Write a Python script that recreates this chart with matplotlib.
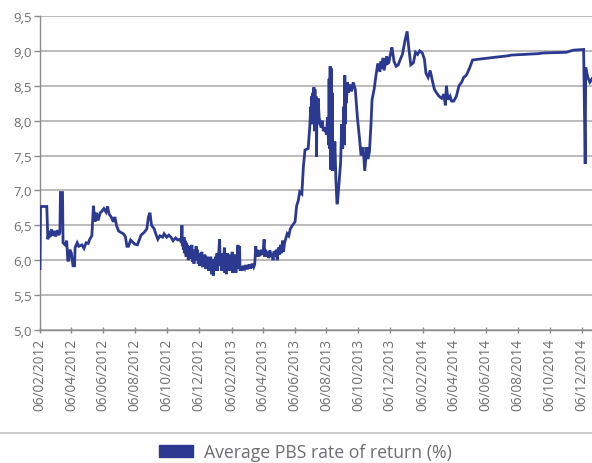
import matplotlib
matplotlib.use("Agg")
import matplotlib.pyplot as plt
import matplotlib.dates as mdates
import matplotlib.ticker as mticker
from matplotlib.patches import Patch
from matplotlib.lines import Line2D
import pandas as pd

dates = [
    "2012-02-06", "2012-02-07", "2012-02-19", "2012-02-21", "2012-02-23", "2012-02-25", "2012-02-28",
    "2012-03-01", "2012-03-04", "2012-03-07", "2012-03-10", "2012-03-13", "2012-03-15", "2012-03-16",
    "2012-03-20", "2012-03-21", "2012-03-25", "2012-03-28", "2012-03-30", "2012-04-01", "2012-04-03",
    "2012-04-06", "2012-04-09", "2012-04-12", "2012-04-13", "2012-04-17", "2012-04-20", "2012-04-26",
    "2012-04-30", "2012-05-04", "2012-05-08", "2012-05-11", "2012-05-15", "2012-05-18", "2012-05-21",
    "2012-05-24", "2012-05-27", "2012-05-31", "2012-06-03", "2012-06-07", "2012-06-11", "2012-06-14",
    "2012-06-17", "2012-06-21", "2012-06-25", "2012-06-28", "2012-07-01", "2012-07-05", "2012-07-09",
    "2012-07-14", "2012-07-18", "2012-07-21", "2012-07-24", "2012-07-28", "2012-08-01", "2012-08-05",
    "2012-08-10", "2012-08-14", "2012-08-17", "2012-08-23", "2012-08-28", "2012-08-31", "2012-09-03",
    "2012-09-06", "2012-09-11", "2012-09-14", "2012-09-18", "2012-09-22", "2012-09-27", "2012-09-30",
    "2012-10-05", "2012-10-09", "2012-10-13", "2012-10-17", "2012-10-22", "2012-10-26", "2012-10-30",
    # Nov 2012 - May 2013 (noisy band)
    "2012-11-02", "2012-11-03", "2012-11-04", "2012-11-05", "2012-11-06", "2012-11-07", "2012-11-08",
    "2012-11-09", "2012-11-11", "2012-11-12", "2012-11-13", "2012-11-14", "2012-11-15", "2012-11-17",
    "2012-11-18", "2012-11-19", "2012-11-20", "2012-11-22", "2012-11-23", "2012-11-25", "2012-11-26",
    "2012-11-27", "2012-11-29", "2012-11-30", "2012-12-02", "2012-12-03", "2012-12-04", "2012-12-06",
    "2012-12-07", "2012-12-08", "2012-12-10", "2012-12-11", "2012-12-12", "2012-12-14", "2012-12-15",
    "2012-12-17", "2012-12-18", "2012-12-19", "2012-12-21", "2012-12-22", "2012-12-24", "2012-12-26",
    "2012-12-27", "2012-12-28", "2012-12-30", "2012-12-31", "2013-01-02", "2013-01-03", "2013-01-05",
    "2013-01-06", "2013-01-07", "2013-01-09", "2013-01-10", "2013-01-12", "2013-01-14", "2013-01-15",
    "2013-01-17", "2013-01-18", "2013-01-20", "2013-01-21", "2013-01-23", "2013-01-24", "2013-01-26",
    "2013-01-27", "2013-01-29", "2013-01-30", "2013-02-01", "2013-02-02", "2013-02-04", "2013-02-05",
    "2013-02-07", "2013-02-08", "2013-02-10", "2013-02-11", "2013-02-13", "2013-02-14", "2013-02-16",
    "2013-02-18", "2013-02-19", "2013-02-21", "2013-02-22", "2013-02-24", "2013-02-26", "2013-02-28",
    "2013-03-03", "2013-03-05", "2013-03-08", "2013-03-11", "2013-03-14", "2013-03-17", "2013-03-20",
    "2013-03-22", "2013-03-24", "2013-03-25", "2013-03-27", "2013-03-28", "2013-03-30", "2013-04-01",
    "2013-04-03", "2013-04-05", "2013-04-07", "2013-04-09", "2013-04-10", "2013-04-12", "2013-04-14",
    "2013-04-16", "2013-04-18", "2013-04-20", "2013-04-22", "2013-04-24", "2013-04-26", "2013-04-28",
    "2013-04-30", "2013-05-02", "2013-05-04", "2013-05-06", "2013-05-08", "2013-05-10", "2013-05-12",
    "2013-05-14", "2013-05-16", "2013-05-18", "2013-05-20",
    # June - October 2013
    "2013-05-23", "2013-05-26", "2013-05-29", "2013-06-02", "2013-06-04", "2013-06-07", "2013-06-10",
    "2013-06-13", "2013-06-16", "2013-06-20", "2013-06-23", "2013-06-26", "2013-07-02", "2013-07-05",
    "2013-07-07", "2013-07-08", "2013-07-09", "2013-07-10", "2013-07-11", "2013-07-12", "2013-07-13",
    "2013-07-14", "2013-07-15", "2013-07-16", "2013-07-17", "2013-07-18", "2013-07-19", "2013-07-20",
    "2013-07-21", "2013-07-23", "2013-07-25", "2013-07-27", "2013-07-29", "2013-07-31", "2013-08-03",
    "2013-08-06", "2013-08-08", "2013-08-10", "2013-08-11", "2013-08-12", "2013-08-13", "2013-08-14",
    "2013-08-15", "2013-08-16", "2013-08-17", "2013-08-18", "2013-08-19", "2013-08-21", "2013-08-22",
    "2013-08-24", "2013-08-26", "2013-08-27", "2013-09-02", "2013-09-04", "2013-09-06", "2013-09-08",
    "2013-09-09", "2013-09-10", "2013-09-11", "2013-09-12", "2013-09-13", "2013-09-15", "2013-09-17",
    "2013-09-20", "2013-09-23", "2013-09-26", "2013-09-30", "2013-10-04", "2013-10-08", "2013-10-11",
    "2013-10-15", "2013-10-18", "2013-10-22", "2013-10-24", "2013-10-27", "2013-10-30", "2013-11-01",
    "2013-11-05", "2013-11-08", "2013-11-12", "2013-11-16", "2013-11-18", "2013-11-20", "2013-11-22",
    "2013-11-24", "2013-11-26", "2013-11-29", "2013-12-01", "2013-12-03", "2013-12-06", "2013-12-09",
    "2013-12-13", "2013-12-17", "2013-12-21", "2013-12-25", "2013-12-29", "2014-01-03", "2014-01-07",
    "2014-01-10", "2014-01-14", "2014-01-19", "2014-01-23", "2014-01-27", "2014-01-31", "2014-02-05",
    "2014-02-09", "2014-02-12", "2014-02-16", "2014-02-20", "2014-02-24", "2014-02-28", "2014-03-04",
    "2014-03-09", "2014-03-14", "2014-03-18", "2014-03-21", "2014-03-23", "2014-03-26", "2014-03-30",
    "2014-04-02", "2014-04-06", "2014-04-11", "2014-04-16", "2014-04-21", "2014-04-25", "2014-04-30",
    "2014-05-06", "2014-05-12", "2014-06-14", "2014-07-19", "2014-07-25", "2014-09-14", "2014-09-24",
    "2014-11-07", "2014-11-20", "2014-12-10", "2014-12-13", "2014-12-14", "2014-12-18", "2014-12-22",
    "2014-12-26",
]

rate_of_return = [
    5.88, 6.77, 6.77, 6.30, 6.42, 6.33, 6.44,
    6.35, 6.42, 6.34, 6.43, 6.36, 6.40, 6.97,
    6.97, 6.25, 6.22, 6.28, 6.00, 6.00, 6.15,
    6.10, 5.92, 5.92, 6.18, 6.25, 6.20, 6.22,
    6.17, 6.25, 6.24, 6.30, 6.35, 6.78, 6.55,
    6.68, 6.57, 6.68, 6.70, 6.74, 6.69, 6.77,
    6.66, 6.62, 6.55, 6.62, 6.50, 6.42, 6.40,
    6.38, 6.34, 6.20, 6.20, 6.29, 6.26, 6.23,
    6.22, 6.30, 6.36, 6.40, 6.45, 6.62, 6.68,
    6.50, 6.45, 6.38, 6.30, 6.35, 6.33, 6.38,
    6.33, 6.36, 6.33, 6.28, 6.32, 6.29, 6.30,
    # Nov 2012 - May 2013
    6.25, 6.50, 6.20, 6.30, 6.15, 6.33, 6.10,
    6.28, 6.05, 6.25, 6.08, 6.22, 6.00, 6.20,
    6.02, 6.18, 6.05, 6.22, 5.98, 6.15, 5.95,
    6.12, 6.02, 6.20, 6.00, 6.15, 5.95, 6.10,
    5.92, 6.08, 5.98, 6.12, 5.90, 6.05, 5.92,
    6.08, 5.88, 6.02, 5.92, 6.05, 5.85, 6.00,
    5.88, 6.05, 5.80, 5.98, 5.78, 6.02, 5.85,
    6.05, 5.90, 6.10, 5.85, 6.08, 6.30, 5.92,
    6.05, 5.85, 6.10, 5.88, 6.18, 5.82, 6.05,
    5.80, 6.10, 5.90, 6.08, 5.85, 6.05, 5.88,
    6.12, 5.82, 6.05, 5.85, 6.08, 5.82, 6.00,
    6.22, 5.88, 6.20, 5.85, 5.90, 5.85, 5.92,
    5.88, 5.93, 5.87, 5.94, 5.88, 5.95, 5.90,
    5.94, 6.20, 6.05, 6.15, 6.05, 6.12, 6.06,
    6.15, 6.08, 6.12, 6.30, 6.05, 6.15, 6.05,
    6.12, 6.03, 6.14, 6.05, 6.10, 6.00, 6.13,
    6.05, 6.15, 6.00, 6.18, 6.08, 6.22, 6.10,
    6.28, 6.12, 6.25, 6.30,
    # June - October 2013 onwards
    6.38, 6.35, 6.45, 6.50, 6.52, 6.55, 6.78,
    6.85, 6.98, 6.95, 7.35, 7.58, 7.60, 7.90,
    8.20, 8.00, 8.35, 7.95, 8.40, 8.00, 8.48,
    7.85, 8.45, 7.90, 8.35, 7.48, 8.30, 7.95,
    8.32, 8.05, 7.95, 7.90, 8.00, 7.85, 7.90,
    7.80, 8.05, 7.65, 8.60, 7.60, 8.78, 7.30,
    8.75, 7.55, 8.40, 7.28, 7.70, 7.40, 7.70,
    7.15, 6.82, 6.82, 7.40, 7.95, 7.60, 8.20,
    7.65, 8.65, 7.95, 8.55, 8.25, 8.55, 8.40,
    8.52, 8.42, 8.55, 8.45, 8.05, 7.75, 7.50,
    7.62, 7.28, 7.62, 7.45, 7.55, 7.95, 8.30,
    8.45, 8.62, 8.82, 8.70, 8.85, 8.75, 8.90,
    8.72, 8.80, 8.92, 8.82, 8.83, 8.95, 9.05,
    8.85, 8.78, 8.80, 8.88, 8.95, 9.15, 9.28,
    9.05, 8.80, 8.83, 8.98, 8.95, 9.00, 8.97,
    8.88, 8.68, 8.62, 8.72, 8.58, 8.45, 8.40,
    8.35, 8.32, 8.38, 8.22, 8.50, 8.30, 8.35,
    8.28, 8.28, 8.35, 8.50, 8.55, 8.62, 8.65,
    8.75, 8.87, 8.90, 8.93, 8.94, 8.96, 8.97,
    8.98, 9.01, 9.02, 7.38, 8.76, 8.62, 8.55,
    8.60,
]

y_ticks = [5.0, 5.5, 6.0, 6.5, 7.0, 7.5, 8.0, 8.5, 9.0, 9.5]
x_start, x_end = "2012-02-06", "2014-12-26"
series_label = "Average PBS rate of return (%)"

LINE = "#2b3990"
TEXT = "#6d6e71"
GRID = "#a8a8a8"

plt.rcParams["font.family"] = ["Open Sans", "DejaVu Sans"]

fig = plt.figure(figsize=(5.92, 4.64), dpi=100)
ax = fig.add_axes([40 / 592, 1 - 331 / 464, (592 - 40) / 592, (331 - 17) / 464])

x = pd.to_datetime(dates)
ax.plot(x, rate_of_return, color=LINE, lw=2.0, solid_joinstyle="miter", zorder=3, clip_on=True)

ax.set_ylim(5.0, 9.5)
ax.set_xlim(pd.Timestamp(x_start), pd.Timestamp(x_end))
ax.set_yticks(y_ticks)
ax.yaxis.set_major_formatter(mticker.FuncFormatter(lambda v, p: f"{v:.1f}".replace(".", ",")))
ax.xaxis.set_major_locator(mdates.MonthLocator(bymonth=[2, 4, 6, 8, 10, 12], bymonthday=6))
ax.xaxis.set_major_formatter(mdates.DateFormatter("%d/%m/%Y"))

ax.grid(axis="y", color=GRID, lw=1.1, zorder=0)
ax.set_axisbelow(True)
for s in ["top", "right"]:
    ax.spines[s].set_visible(False)
for s in ["left", "bottom"]:
    ax.spines[s].set_color("#8a8a8a")
    ax.spines[s].set_linewidth(1.0)

ax.tick_params(axis="y", colors="#8a8a8a", labelcolor=TEXT, labelsize=9.5, length=4, width=1, pad=2)
ax.tick_params(axis="x", colors="#8a8a8a", labelcolor=TEXT, labelsize=9.8, length=5, width=1,
               direction="inout", pad=3, labelrotation=90)

sep_y = 1 - 434 / 464
fig.add_artist(Line2D([0, 1], [sep_y, sep_y], transform=fig.transFigure, color="#c8c8c8", lw=1.3))

handle = Patch(facecolor=LINE, edgecolor=LINE)
fig.legend(handles=[handle], labels=[series_label], loc="center",
           bbox_to_anchor=(305 / 592, 1 - 453 / 464), frameon=False,
           fontsize=12.7, labelcolor=TEXT, handlelength=1.95, handleheight=0.65,
           handletextpad=0.6, borderpad=0)

fig.savefig("out.png", dpi=100)
